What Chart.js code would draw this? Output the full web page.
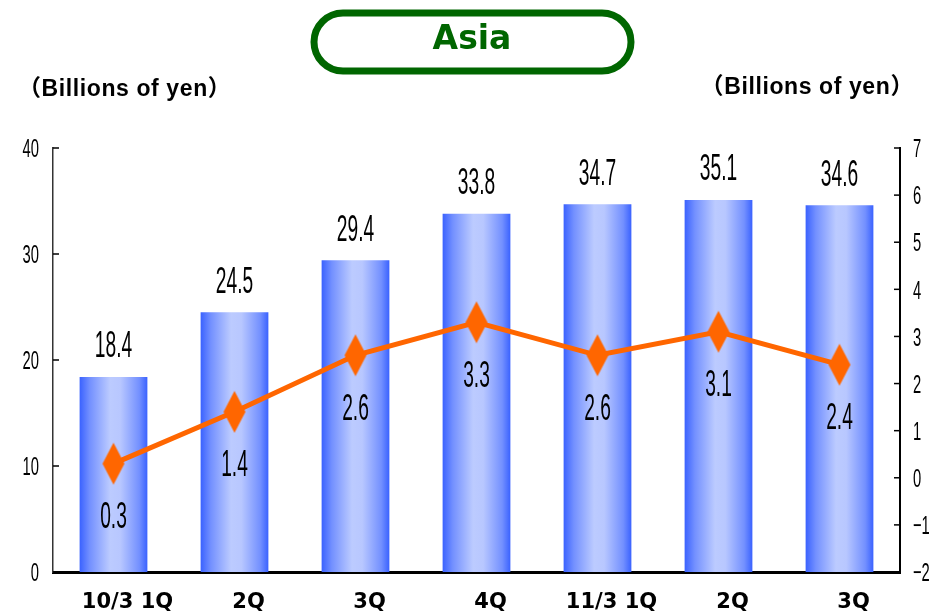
<!DOCTYPE html>
<html>
<head>
<meta charset="utf-8">
<script src="https://cdn.jsdelivr.net/npm/chart.js@4"></script>
<style>
  html, body { margin: 0; padding: 0; background: #fff; }
</style>
</head>
<body>
<canvas id="statsChart" width="939" height="614"></canvas>
<script>
const categories = ["10/3 1Q", "2Q", "3Q", "4Q", "11/3 1Q", "2Q", "3Q"];
const salesValues = [18.4, 24.5, 29.4, 33.8, 34.7, 35.1, 34.6];
const profitValues = [0.3, 1.4, 2.6, 3.3, 2.6, 3.1, 2.4];
const leftTicks = [0, 10, 20, 30, 40];
const rightTicks = [-2, -1, 0, 1, 2, 3, 4, 5, 6, 7];
const titleText = "Asia";
const unitText = "（Billions of yen）";

const BAR_PCT = 0.56;
const NUM_FONT = '"Liberation Sans", Arial, sans-serif';
const BOLD_FONT = '"DejaVu Sans", "Noto Sans CJK JP", sans-serif';
const UNIT_FONT = '"Liberation Sans", "Noto Sans CJK JP", sans-serif';

// tall, narrow numerals like the original
function tallText(ctx, text, x, y, size, sx, sy, align) {
  ctx.save();
  ctx.translate(x, y);
  ctx.scale(sx, sy);
  ctx.font = size + "px " + NUM_FONT;
  ctx.fillStyle = "#000";
  ctx.textAlign = align;
  ctx.textBaseline = "middle";
  ctx.fillText(text, 0, 0);
  ctx.restore();
}

// diamond marker, taller than wide
const diamond = document.createElement("canvas");
diamond.width = 24;
diamond.height = 44;
(() => {
  const d = diamond.getContext("2d");
  d.fillStyle = "#ff6600";
  d.beginPath();
  d.moveTo(12, 1);
  d.lineTo(23, 22);
  d.lineTo(12, 43);
  d.lineTo(1, 22);
  d.closePath();
  d.fill();
})();

function barFill(c) {
  const xs = c.chart.scales.x;
  if (!xs || c.type !== "data") return "#4a6cff";
  const cx = xs.getPixelForValue(c.dataIndex);
  const w = xs.width / categories.length * BAR_PCT;
  if (!Number.isFinite(cx) || !Number.isFinite(w) || w <= 0) return "#4a6cff";
  const g = c.chart.ctx.createLinearGradient(cx - w / 2, 0, cx + w / 2, 0);
  g.addColorStop(0, "#3a62ff");
  g.addColorStop(0.15, "#7390ff");
  g.addColorStop(0.45, "#bccbff");
  g.addColorStop(0.6, "#b8c7ff");
  g.addColorStop(0.88, "#7390ff");
  g.addColorStop(1, "#3a62ff");
  return g;
}

const decorPlugin = {
  id: "decor",
  beforeDraw(chart) {
    const ctx = chart.ctx;
    ctx.save();
    ctx.fillStyle = "#fff";
    ctx.fillRect(0, 0, chart.width, chart.height);

    // title pill
    ctx.strokeStyle = "#006600";
    ctx.lineWidth = 7;
    ctx.beginPath();
    ctx.roundRect(314, 13, 317, 58, 29);
    ctx.stroke();
    ctx.fillStyle = "#006600";
    ctx.font = "bold 33px " + BOLD_FONT;
    ctx.textAlign = "center";
    ctx.textBaseline = "middle";
    ctx.fillText(titleText, 472, 40);

    // unit labels
    ctx.fillStyle = "#000";
    ctx.font = "bold 23px " + UNIT_FONT;
    ctx.letterSpacing = "0.6px";
    ctx.textAlign = "left";
    ctx.fillText(unitText, 18, 90);
    ctx.textAlign = "right";
    ctx.fillText(unitText, 914, 88);
    ctx.restore();
  },
  afterDraw(chart) {
    const ctx = chart.ctx;
    const yL = chart.scales.y;
    const yR = chart.scales.y1;
    const area = chart.chartArea;
    ctx.save();

    // tick marks pointing inward + tick labels
    ctx.strokeStyle = "#000";
    ctx.lineWidth = 1.5;
    yL.ticks.forEach((t) => {
      const py = yL.getPixelForValue(t.value);
      ctx.beginPath();
      ctx.moveTo(area.left, py);
      ctx.lineTo(area.left + 6, py);
      ctx.stroke();
      tallText(ctx, String(t.value), 39, py + 2, 18, 0.82, 1.45, "right");
    });
    yR.ticks.forEach((t) => {
      const py = yR.getPixelForValue(t.value);
      ctx.beginPath();
      ctx.moveTo(area.right - 6, py);
      ctx.lineTo(area.right, py);
      ctx.stroke();
      const s = t.value < 0 ? "\u2212" + Math.abs(t.value) : String(t.value);
      tallText(ctx, s, 913, py + 2, 18, 0.82, 1.45, "left");
    });

    // value labels
    const barMeta = chart.getDatasetMeta(1);
    barMeta.data.forEach((el, i) => {
      tallText(ctx, salesValues[i].toFixed(1), el.x, el.y - 30, 24, 0.8, 1.57, "center");
    });
    const lineMeta = chart.getDatasetMeta(0);
    lineMeta.data.forEach((el, i) => {
      tallText(ctx, profitValues[i].toFixed(1), el.x, el.y + 54, 24, 0.8, 1.57, "center");
    });
    ctx.restore();
  }
};

const chart = new Chart(document.getElementById("statsChart"), {
  data: {
    labels: categories,
    datasets: [
      {
        type: "line",
        label: "Operating income",
        data: profitValues,
        yAxisID: "y1",
        borderColor: "#ff6600",
        borderWidth: 5,
        pointStyle: diamond,
        pointRadius: 12,
        pointHoverRadius: 12,
        tension: 0,
        order: 1
      },
      {
        type: "bar",
        label: "Net sales",
        data: salesValues,
        yAxisID: "y",
        backgroundColor: barFill,
        borderWidth: 0,
        barPercentage: BAR_PCT,
        categoryPercentage: 1.0,
        order: 2
      }
    ]
  },
  options: {
    responsive: false,
    animation: false,
    devicePixelRatio: 1,
    layout: { padding: { top: 148, left: 0, right: 0, bottom: 0 } },
    plugins: {
      legend: { display: false },
      tooltip: { enabled: false }
    },
    scales: {
      x: {
        grid: { display: false },
        border: { display: true, color: "#000", width: 3 },
        ticks: {
          color: "#000",
          font: { family: BOLD_FONT, size: 21, weight: "bold", lineHeight: 1.2 },
          padding: 10,
          labelOffset: 14,
          maxRotation: 0,
          autoSkip: false
        },
        afterFit(s) { s.height = 42; }
      },
      y: {
        position: "left",
        min: leftTicks[0],
        max: leftTicks[leftTicks.length - 1],
        afterBuildTicks(s) { s.ticks = leftTicks.map((v) => ({ value: v })); },
        grid: { display: false },
        border: { display: true, color: "#333", width: 1.5 },
        ticks: { display: false },
        afterFit(s) { s.width = 53; }
      },
      y1: {
        position: "right",
        min: rightTicks[0],
        max: rightTicks[rightTicks.length - 1],
        afterBuildTicks(s) { s.ticks = rightTicks.map((v) => ({ value: v })); },
        grid: { display: false },
        border: { display: true, color: "#000", width: 2 },
        ticks: { display: false },
        afterFit(s) { s.width = 39; }
      }
    }
  },
  plugins: [decorPlugin]
});
</script>
</body>
</html>
